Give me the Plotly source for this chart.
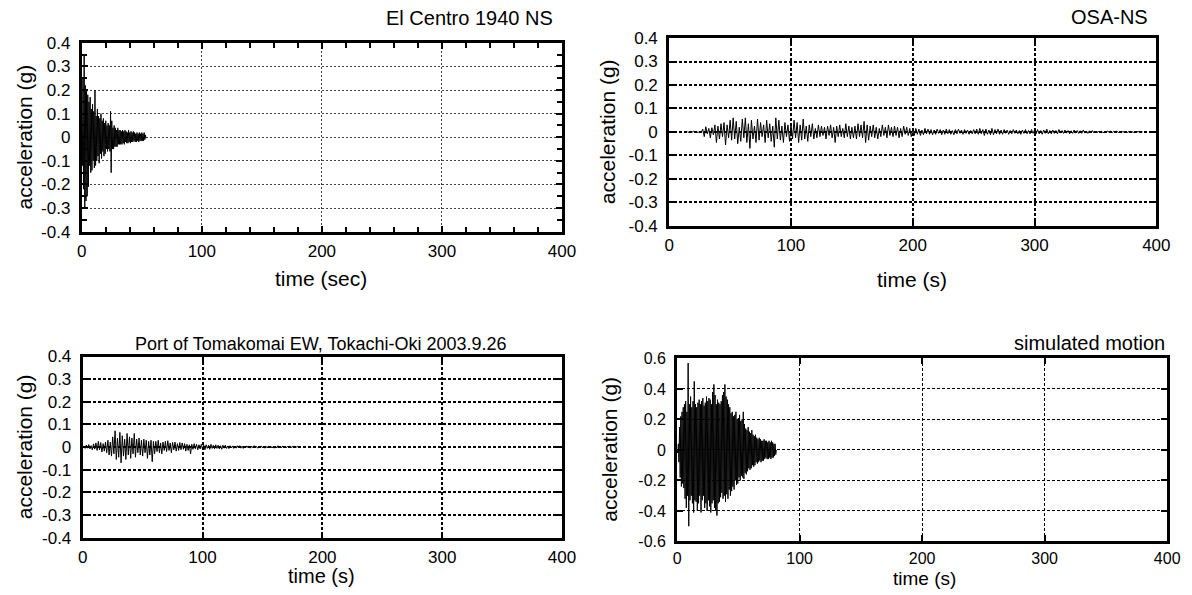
import plotly.graph_objects as go

W, H = 1192, 595

# ---------------- data (acceleration in milli-g) ----------------
# El Centro 1940 NS : samples every 0.5 s starting at t = 0
elcentro_t0, elcentro_dt = 0.0, 0.5
elcentro_mg = [
    20, -120, 250, -220, 350, -300, 220, -270, 200, -250,
    180, -210, 150, -120, 170, -150, 120, -140, 140, -100,
    110, -130, 200, -120, 90, -100, 120, -80, 90, -110,
    80, -70, 100, -90, 70, -60, 80, -80, 60, -70,
    70, -50, 50, -60, 60, -50, 50, -60, 110, -150,
    70, -50, 40, -50, 50, -40, 40, -40, 30, -40,
    40, -30, 30, -30, 30, -30, 25, -30, 30, -25,
    25, -30, 30, -20, 25, -25, 20, -25, 30, -20,
    20, -25, 25, -20, 20, -20, 25, -15, 20, -20,
    15, -20, 20, -15, 15, -20, 20, -15, 15, -15,
    20, -15, 15, -15, 20, -10, 10, -5,
]

# OSA-NS : samples every 1.25 s starting at t = 15 s
osa_t0, osa_dt = 15.0, 1.25
osa_mg = [
    1, -2, 2, -1, 3, -2, 2, -3, 4, -3,
    12, -20, 22, -8, 15, -25, 18, -12, 30, -45,
    25, -30, 35, -20, 40, -55, 30, -25, 50, -35,
    60, -30, 45, -50, 20, -40, 55, -25, 60, -45,
    35, -70, 50, -30, 25, -45, 55, -35, 40, -20,
    30, -45, 50, -25, 35, -40, 25, -65, 60, -30,
    50, -35, 25, -45, 40, -20, 30, -40, 35, -30,
    50, -25, 40, -45, 30, -35, 55, -30, 25, -40,
    30, -20, 35, -30, 15, -25, 30, -20, 25, -15,
    20, -30, 25, -15, 30, -25, 20, -45, 25, -20,
    30, -20, 15, -25, 35, -20, 25, -30, 20, -25,
    25, -30, 35, -20, 30, -25, 45, -45, 30, -35,
    25, -20, 30, -25, 20, -30, 15, -20, 30, -15,
    20, -25, 30, -15, 20, -20, 25, -15, 20, -25,
    15, -20, 25, -10, 20, -15, 15, -20, 10, -15,
    15, -10, 12, -15, 8, -12, 15, -8, 12, -10,
    10, -12, 8, -10, 12, -6, 10, -12, 8, -10,
    12, -8, 10, -10, 6, -12, 10, -8, 12, -6,
    8, -10, 10, -6, 8, -10, 6, -8, 10, -8,
    12, -10, 15, -8, 10, -15, 12, -10, 8, -12,
    15, -12, 10, -8, 12, -10, 8, -10, 10, -6,
    8, -10, 6, -8, 10, -6, 8, -8, 6, -10,
    8, -6, 10, -8, 6, -8, 10, -6, 8, -8,
    10, -8, 6, -10, 8, -6, 12, -8, 6, -8,
    8, -6, 6, -8, 10, -5, 6, -6, 8, -5,
    6, -8, 5, -6, 8, -5, 6, -6, 5, -6,
    8, -5, 4, -6, 5, -4, 6, -4, 3, -4,
    4, -3, 3, -4, 2, -3, 4, -2, 3, -3,
    3, -2, 4, -3, 2, -3, 2, -2, 3, -2,
    2, -2, 1, -2, 3, -1, 2, -2, 1, 0,
]

# Port of Tomakomai EW : samples every 1 s starting at t = 0
toma_t0, toma_dt = 0.0, 1.0
toma_mg = [
    0, 4, -6, 9, -5, 11, -8, 6, -12, 14,
    -9, 18, -15, 25, -12, 20, -22, 15, -18, 22,
    -25, 30, -35, 22, -40, 45, -30, 72, -55, 40,
    -45, 65, -70, 50, -40, 35, -55, 60, -35, 45,
    -50, 40, -30, 60, -45, 35, -25, 40, -35, 30,
    -40, 35, -25, 30, -50, 25, -35, 30, -65, 25,
    -30, 25, -20, 30, -25, 18, -30, 22, -15, 25,
    -20, 28, -15, 18, -25, 20, -12, 22, -18, 15,
    -15, 20, -12, 18, -10, 15, -18, 12, -15, 10,
    -30, 12, -10, 15, -8, 12, -12, 10, -8, 12,
    -10, 8, -12, 10, -6, 8, -10, 12, -6, 8,
    -8, 10, -6, 8, -8, 6, -10, 8, -5, 8,
    -6, 5, -7, 6, -4, 5, -6, 4, -5, 6,
    -4, 6, -5, 4, -6, 3, -4, 5, -3, 4,
    -5, 4, -3, 6, -4, 3, -5, 4, -3, 5,
    -3, 4, -5, 3, -4, 5, -3, 4, -4, 3,
    -5, 3, -4, 6, -3, 4, -3, 5, -4, 3,
    -3, 4, -3, 5, -2, 3, -4, 3, -2, 3,
    -2, 2, 0,
]

# simulated motion : samples every 0.5 s starting at t = 0
sim_t0, sim_dt = 0.0, 0.5
sim_mg = [
    0, -20, 40, -80, 150, -180, 220, -240, 250, -220,
    280, -250, 300, -320, 320, -380, 250, -300, 570, -500,
    300, -330, 350, -300, 280, -350, 320, -410, 450, -330,
    300, -340, 280, -400, 310, -350, 330, -300, 300, -410,
    320, -330, 340, -300, 290, -380, 310, -350, 350, -400,
    320, -330, 340, -370, 330, -410, 300, -350, 380, -330,
    430, -380, 360, -400, 300, -430, 330, -350, 310, -340,
    300, -310, 320, -280, 360, -320, 380, -300, 430, -340,
    350, -290, 330, -320, 300, -260, 280, -300, 240, -270,
    250, -240, 220, -260, 230, -200, 250, -230, 200, -220,
    210, -180, 230, -200, 190, -170, 200, -180, 250, -190,
    170, -150, 140, -160, 130, -140, 150, -120, 120, -130,
    110, -120, 130, -100, 100, -110, 90, -100, 100, -80,
    80, -90, 70, -80, 80, -70, 70, -80, 60, -70,
    60, -70, 70, -60, 60, -50, 60, -60, 50, -60,
    60, -50, 50, -60, 60, -50, 50, -50, 40, -40,
    40, -30, 0,
]

titles = ["El Centro 1940 NS", "OSA-NS",
          "Port of Tomakomai EW, Tokachi-Oki 2003.9.26", "simulated motion"]
xtitles = ["time (sec)", "time (s)", "time (s)", "time (s)"]
ytitle = "acceleration (g)"
x_ticks = [0, 100, 200, 300, 400]
y_ticks_a = [-0.4, -0.3, -0.2, -0.1, 0, 0.1, 0.2, 0.3, 0.4]
y_ticks_b = [-0.6, -0.4, -0.2, 0, 0.2, 0.4, 0.6]

series = [
    (elcentro_t0, elcentro_dt, elcentro_mg),
    (osa_t0, osa_dt, osa_mg),
    (toma_t0, toma_dt, toma_mg),
    (sim_t0, sim_dt, sim_mg),
]

# ---------------- layout (pixel boxes) ----------------
boxes = [(78, 566, 35, 230), (675, 1170, 30, 224),
         (79, 566, 359, 546), (683, 1181, 361, 550)]
yranges = [(-0.4, 0.4), (-0.4, 0.4), (-0.4, 0.4), (-0.6, 0.6)]
yticks = [y_ticks_a, y_ticks_a, y_ticks_a, y_ticks_b]
grid_style = [("#444", "2px,2px", 1), ("black", "3px,2px", 1.5),
              ("black", "3px,2px", 1.5), ("black", "3px,2px", 1)]
tick_size = [17, 17, 17, 16]
xlabel_standoff = [2, 2, 2, 0]

FONT = "Liberation Sans, Arial, sans-serif"
fig = go.Figure()


def fx(px):
    return px / W


def fy(py):
    return 1 - py / H


for i, (t0, dt, vals) in enumerate(series):
    n = i + 1
    t = [t0 + dt * k for k in range(len(vals))]
    a = [v / 1000.0 for v in vals]
    fig.add_trace(go.Scatter(
        x=t, y=a, mode="lines",
        line=dict(color="black", width=1),
        xaxis="x" if n == 1 else f"x{n}",
        yaxis="y" if n == 1 else f"y{n}",
        showlegend=False, hoverinfo="skip"))

layout = dict(
    width=W, height=H, margin=dict(l=0, r=0, t=0, b=0),
    paper_bgcolor="white", plot_bgcolor="white",
    font=dict(family=FONT, color="black"),
)

for i in range(4):
    n = i + 1
    l, r, tp, bt = boxes[i]
    gcol, gdash, gw = grid_style[i]
    xk = "xaxis" if n == 1 else f"xaxis{n}"
    yk = "yaxis" if n == 1 else f"yaxis{n}"
    xa = dict(
        domain=[fx(l), fx(r)], range=[0, 400],
        tickvals=x_ticks, ticktext=[str(v) for v in x_ticks],
        showline=True, linewidth=3, linecolor="black", mirror="ticks",
        ticks="inside", ticklen=6, tickwidth=1.5, tickcolor="black",
        showgrid=True, gridcolor=gcol, gridwidth=gw, griddash=gdash,
        zeroline=False, tickfont=dict(size=tick_size[i], family=FONT),
        ticklabelstandoff=xlabel_standoff[i],
        anchor="y" if n == 1 else f"y{n}",
    )
    ya = dict(
        domain=[fy(bt), fy(tp)], range=list(yranges[i]),
        tickvals=yticks[i],
        ticktext=[("0" if v == 0 else f"{v:g}") for v in yticks[i]],
        showline=True, linewidth=3, linecolor="black", mirror="ticks",
        ticks="inside", ticklen=6, tickwidth=1.5, tickcolor="black",
        showgrid=True, gridcolor=gcol, gridwidth=gw, griddash=gdash,
        zeroline=False, tickfont=dict(size=tick_size[i], family=FONT),
        ticklabelstandoff=5,
        anchor="x" if n == 1 else f"x{n}",
    )
    if i == 0:
        xa["minor"] = dict(dtick=20, ticks="inside", ticklen=5, tickcolor="black",
                           tickwidth=1.5, showgrid=False)
        ya["minor"] = dict(dtick=0.05, ticks="inside", ticklen=5, tickcolor="black",
                           tickwidth=1.5, showgrid=False)
    layout[xk] = xa
    layout[yk] = ya

ann = []
ytitle_pos = [(20, 132), (613, 127), (20, 452), (614, 455)]
xtitle_pos = [(321, 278), (922, 279), (322, 586), (934, 588)]
xtitle_size = [21, 21, 20, 19]
for i in range(4):
    ann.append(dict(text=ytitle, x=fx(ytitle_pos[i][0]), y=fy(ytitle_pos[i][1]),
                    xref="paper", yref="paper", textangle=-90, showarrow=False,
                    xanchor="center", yanchor="middle", font=dict(size=21)))
    ann.append(dict(text=xtitles[i], x=fx(xtitle_pos[i][0]), y=fy(xtitle_pos[i][1]),
                    xref="paper", yref="paper", showarrow=False,
                    xanchor="center", yanchor="middle",
                    font=dict(size=xtitle_size[i])))
ann.append(dict(text=titles[0], x=fx(559), y=fy(9), xref="paper", yref="paper",
                showarrow=False, xanchor="right", yanchor="middle", font=dict(size=20)))
ann.append(dict(text=titles[1], x=fx(1164), y=fy(8), xref="paper", yref="paper",
                showarrow=False, xanchor="right", yanchor="middle", font=dict(size=20)))
ann.append(dict(text=titles[2], x=fx(321), y=fy(346), xref="paper", yref="paper",
                showarrow=False, xanchor="center", yanchor="middle", font=dict(size=18)))
ann.append(dict(text=titles[3], x=fx(1181), y=fy(345), xref="paper", yref="paper",
                showarrow=False, xanchor="right", yanchor="middle", font=dict(size=20)))
layout["annotations"] = ann

fig.update_layout(**layout)
fig.write_html("out.html")
